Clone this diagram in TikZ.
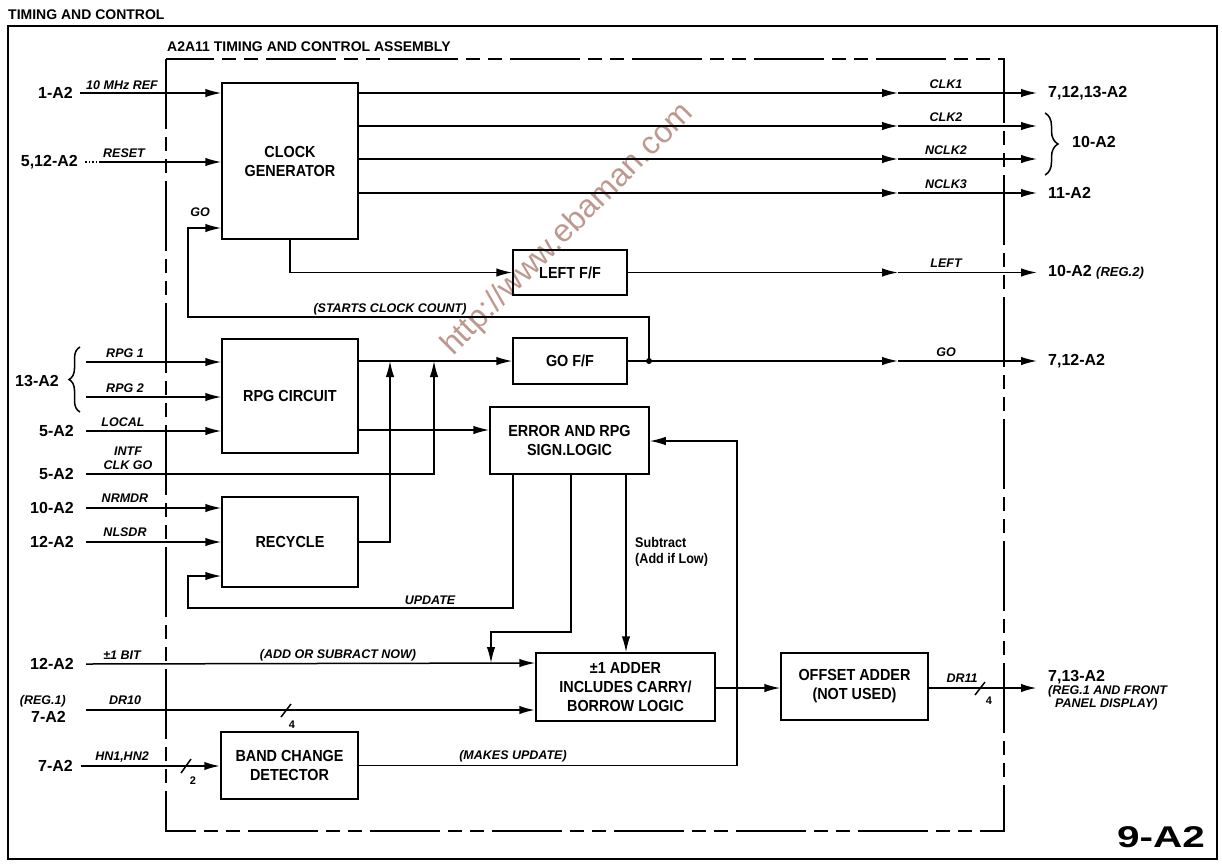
\documentclass[tikz,border=0pt]{standalone}
\usepackage{fontspec}
\setmainfont{Liberation Sans}
\newfontfamily\cf[FakeStretch=0.9]{Liberation Sans}
\usetikzlibrary{arrows.meta,decorations.pathreplacing}
\definecolor{wmcol}{RGB}{190,152,142}
\begin{document}
\begin{tikzpicture}[x=1pt,y=-1pt,
  ln/.style={line width=1.5pt},
  arr/.style={line width=1.5pt,-{Latex[length=16pt,width=8.5pt]}},
  bus/.style={line width=2.2pt},
  blk/.style={draw,line width=1.5pt,inner sep=0pt,align=center,font=\cf\bfseries\fontsize{16}{19}\selectfont},
  term/.style={inner sep=0pt,font=\bfseries\fontsize{16}{18}\selectfont},
  sig/.style={inner sep=0pt,font=\bfseries\itshape\fontsize{12.5}{14}\selectfont},
  hdr/.style={inner sep=0pt,font=\bfseries\fontsize{14}{16}\selectfont},
]
\useasboundingbox (0,0) rectangle (1222,863);
% frames
\draw[line width=1.5pt] (8,26) rectangle (1217,859);
\node[hdr,anchor=west] (title) at (8,15) {TIMING AND CONTROL};
\node[hdr,anchor=west] (asm) at (167,47) {A2A11 TIMING AND CONTROL ASSEMBLY};
\draw[line width=1.6pt,dash pattern=on 70pt off 8pt on 14pt off 8pt on 14pt off 8pt] (166,59) rectangle (1004,831);

% watermark
\node[rotate=45,text=wmcol,inner sep=0pt,font=\fontsize{32}{32}\selectfont] (wm) at (568,230) {http://www.ebaman.com};

% blocks
\node[blk,minimum width=136pt,minimum height=156pt] (clk) at (290,161) {CLOCK\\GENERATOR};
\node[blk,minimum width=114pt,minimum height=45pt] (lff) at (570,272.5) {LEFT F/F};
\node[blk,minimum width=114pt,minimum height=46pt] (gff) at (570,361) {GO F/F};
\node[blk,minimum width=136pt,minimum height=114pt] (rpg) at (290,396) {RPG CIRCUIT};
\node[blk,minimum width=159pt,minimum height=67pt] (err) at (569.5,440.5) {ERROR AND RPG\\SIGN.LOGIC};
\node[blk,minimum width=136pt,minimum height=90pt] (rec) at (290,542) {RECYCLE};
\node[blk,minimum width=179pt,minimum height=68pt] (add) at (625.5,687) {±1 ADDER\\INCLUDES CARRY/\\BORROW LOGIC};
\node[blk,minimum width=147pt,minimum height=67pt] (off) at (854.5,686.5) {OFFSET ADDER\\(NOT USED)};
\node[blk,minimum width=137pt,minimum height=67pt] (band) at (289.5,765.5) {BAND CHANGE\\DETECTOR};

% clock generator inputs
\node[term,anchor=east] (t1) at (73,93) {1-A2};
\node[sig] (l10m) at (122,85) {10 MHz REF};
\draw[arr] ([xshift=7pt]t1.east) -- (t1.east -| clk.west);
\node[term,anchor=east] (t2) at (78,162) {5,12-A2};
\node[sig] (lreset) at (124,153) {RESET};
\draw[ln,dotted] (85,162) -- (100,162);
\draw[arr] (100,162) -- (clk.west |- 0,162);

% GO feedback
\coordinate (godot) at (649,361);
\draw[arr] (godot) |- (188,317) |- (clk.west |- 0,228);
\fill (godot) circle (3pt);
\node[sig] (lgo1) at (200,212) {GO};
\node[sig] (lstart) at (390,309) {(STARTS CLOCK COUNT)};

% clock generator outputs
\node[term,anchor=west] (o1) at (1048,93) {7,12,13-A2};
\node[term,anchor=west] (o2) at (1072,142) {10-A2};
\node[term,anchor=west] (o3) at (1048,193) {11-A2};
\foreach \y/\lab/\n in {93/CLK1/a,126/CLK2/b,159/NCLK2/c,193/NCLK3/d}{
  \coordinate (m\n) at (898,\y);
  \coordinate (e\n) at (1037,\y);
  \draw[arr] (clk.east |- m\n) -- (m\n);
  \draw[arr] (m\n) -- (e\n);
  \node[sig] (l\n) at (946,\y-9) {\lab};
}
\draw[ln,decorate,decoration={brace,amplitude=13pt}] (1045,113) -- (1045,175);

% LEFT F/F
\draw[arr] (clk.south) |- (lff.west);
\coordinate (me) at (898,272.5);
\coordinate (ee) at (1037,272.5);
\draw[arr] (lff.east) -- (me);
\draw[arr] (me) -- (ee);
\node[sig] (lleft) at (946,263) {LEFT};
\node[term,anchor=west] (o4) at (1048,272.5) {10-A2 {\itshape\fontsize{13}{14}\selectfont (REG.2)}};

% GO F/F
\draw[arr] (rpg.east |- gff.west) -- (gff.west);
\coordinate (mf) at (898,361);
\coordinate (ef) at (1037,361);
\draw[ln] (gff.east) -- (godot);
\draw[arr] (godot) -- (mf);
\draw[arr] (mf) -- (ef);
\node[sig] (lgo2) at (946,352) {GO};
\node[term,anchor=west] (o5) at (1048,361) {7,12-A2};

% RPG inputs
\draw[ln,decorate,decoration={brace,amplitude=11pt}] (80,412) -- (80,347);
\node[term,anchor=east] (t3) at (59,381) {13-A2};
\node[sig] (lrpg1) at (125,353) {RPG 1};
\node[sig] (lrpg2) at (125,388) {RPG 2};
\coordinate (r1) at (86,362);
\coordinate (r2) at (86,397);
\draw[arr] (r1) -- (rpg.west |- r1);
\draw[arr] (r2) -- (rpg.west |- r2);
\node[term,anchor=east] (t4) at (74,431) {5-A2};
\node[sig] (llocal) at (123,422) {LOCAL};
\draw[arr] ([xshift=12pt]t4.east) -- (t4.east -| rpg.west);
\node[term,anchor=east] (t5) at (74,474) {5-A2};
\node[sig,align=center,font=\bfseries\itshape\fontsize{12.5}{14}\selectfont] (lintf) at (128,458) {INTF\\CLK GO};
\draw[arr] ([xshift=12pt]t5.east) -| (434,361);

% RPG -> ERROR
\draw[arr] (rpg.east |- 0,430) -- (err.west |- 0,430);

% RECYCLE
\node[term,anchor=east] (t6) at (74,508) {10-A2};
\node[sig] (lnrmdr) at (125,498) {NRMDR};
\draw[arr] ([xshift=12pt]t6.east) -- (t6.east -| rec.west);
\node[term,anchor=east] (t7) at (74,542) {12-A2};
\node[sig] (lnlsdr) at (125,532) {NLSDR};
\draw[arr] ([xshift=12pt]t7.east) -- (t7.east -| rec.west);
\draw[arr] (rec.east) -| (390,361);

% ERROR outputs
\draw[arr] (err.south -| 513,0) |- (188,608) |- (rec.west |- 0,576);
\node[sig] (lupd) at (430,600) {UPDATE};
\draw[arr] (err.south -| 571,0) |- (491,632) -- (491,663);
\draw[arr] (err.south -| 626,0) -- (add.north -| 626,0);
\node[anchor=west,align=left,inner sep=0pt,font=\cf\bfseries\fontsize{14}{16}\selectfont] (lsub) at (635,552) {Subtract\\(Add if Low)};

% ADDER inputs
\node[term,anchor=east] (t8) at (74,664) {12-A2};
\node[sig] (lbit) at (122,655) {±1 BIT};
\node[sig] (laddsub) at (338,655) {(ADD OR SUBRACT NOW)};
\draw[arr] ([xshift=12pt]t8.east) -- (add.west |- 0,663);
\node[sig,anchor=east] (lreg1) at (66,701) {(REG.1)};
\node[term,anchor=east] (t9) at (66,717) {7-A2};
\node[sig] (ldr10) at (125,700) {DR10};
\coordinate (d10) at (86,710);
\draw[arr,bus] (d10) -- (add.west |- d10);
\draw[ln] (281,717) -- (291,704);
\node[sig,font=\bfseries\fontsize{11}{12}\selectfont] (n4a) at (292,725) {4};

% BAND CHANGE
\node[term,anchor=east] (t10) at (73,766) {7-A2};
\node[sig] (lhn) at (122,757) {HN1,HN2};
\draw[arr,bus] ([xshift=8pt]t10.east) -- (t10.east -| band.west);
\draw[ln] (181,773) -- (191,759);
\node[sig,font=\bfseries\fontsize{11}{12}\selectfont] (n2) at (193,781) {2};
\draw[arr] (band.east) -| (737,441) -- (err.east |- 0,441);
\node[sig] (lmakes) at (513,756) {(MAKES UPDATE)};

% ADDER -> OFFSET -> out
\draw[arr] (add.east |- 0,688) -- (off.west |- 0,688);
\coordinate (eg) at (1037,688);
\draw[arr,bus] (off.east |- eg) -- (eg);
\draw[ln] (975,695) -- (985,682);
\node[sig,font=\bfseries\fontsize{11}{12}\selectfont] (n4b) at (989,701) {4};
\node[sig] (ldr11) at (962,678) {DR11};
\node[term,anchor=west] (o6) at (1048,677) {7,13-A2};
\node[sig,anchor=west] (o6b) at (1048,691) {(REG.1 AND FRONT};
\node[sig,anchor=west] (o6c) at (1055,704) {PANEL DISPLAY)};

% figure number
\node[inner sep=0pt,font=\bfseries\fontsize{30}{30}\selectfont] (fig) at (1161,837) {\scalebox{1.35}[1]{9-A2}};
\end{tikzpicture}
\end{document}
